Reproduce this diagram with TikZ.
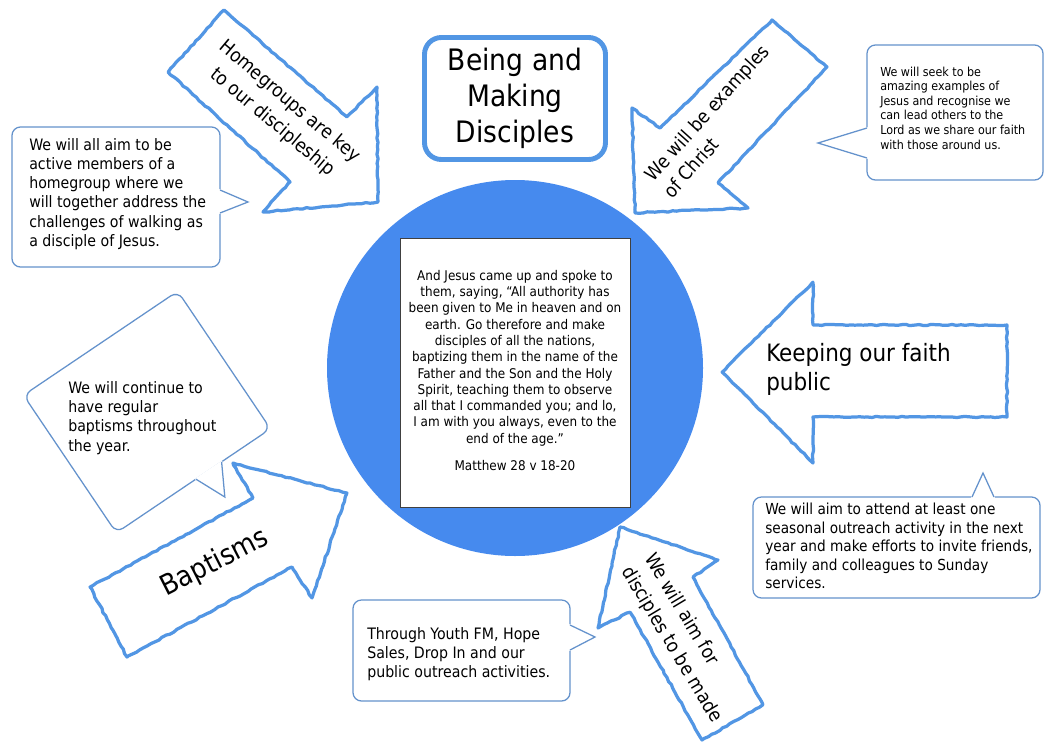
\documentclass[tikz,border=0pt]{standalone}
\usepackage{fontspec}
\setmainfont{DejaVu Sans Condensed}
\usepackage{tikz}
\usetikzlibrary{decorations.pathmorphing}
\definecolor{discblue}{RGB}{70,138,238}
\definecolor{sketchblue}{RGB}{82,150,228}
\definecolor{notecolor}{RGB}{100,146,204}
\newcommand{\pxu}{0.025cm}
\tikzset{
  sketchln/.style={draw=sketchblue, fill=white, line width=2.3pt, line join=round,
    decorate, decoration={random steps, segment length=3pt, amplitude=0.45pt}},
  noteln/.style={draw=notecolor, fill=white, line width=0.9pt, rounded corners=6pt},
  notetxt/.style={align=left, inner sep=0pt, font=\fontsize{11.2}{13.6}\selectfont},
  arrtxt/.style={align=center, inner sep=0pt},
}
\newcommand{\calltip}[3]{%
  \filldraw[white, line width=1.3pt, line join=round] #1 -- #2 -- #3 -- cycle;
  \draw[notecolor, line width=0.9pt] #1 -- #2 -- #3;
}

\begin{document}
\begin{tikzpicture}[x=\pxu, y=-\pxu]
    \pgfmathsetseed{11}
    \useasboundingbox (0,0) rectangle (1045,750);
    \fill[white] (0,0) rectangle (1045,750);
    % centre: circle and verse
    \node[circle, fill=discblue, minimum size=376*\pxu, inner sep=0pt] (core) at (515,368) {};
    \node[draw=black!75, fill=white, line width=0.6pt, minimum width=230*\pxu,
      minimum height=269*\pxu, inner sep=0pt] (versebox) at (515,372.5) {};
    \node[align=center, inner sep=0pt, font=\fontsize{9.5}{11.6}\selectfont] (verse) at (515,358)
      {And Jesus came up and spoke to\\them, saying, “All authority has\\been given to Me in heaven and on\\earth. Go therefore and make\\disciples of all the nations,\\baptizing them in the name of the\\Father and the Son and the Holy\\Spirit, teaching them to observe\\all that I commanded you; and lo,\\I am with you always, even to the\\end of the age.”};
    \node[inner sep=0pt, font=\fontsize{9.5}{11.6}\selectfont] (matt) at (515,466) {Matthew 28 v 18-20};
    % title
    \node[draw=sketchblue, line width=3.5pt, rounded corners=12pt, fill=white,
      minimum width=181*\pxu, minimum height=122*\pxu, align=center,
      font=\fontsize{21}{25.5}\selectfont] (title) at (515,98.5) {Being and\\Making\\Disciples};
    % notes
    \draw[noteln] (12,127) rectangle (220,267);
    \calltip{(220,190)}{(248,202)}{(220,213)}
    \node[notetxt, anchor=west] (homenote) at (29,194)
      {We will all aim to be\\active members of a\\homegroup where we\\will together address the\\challenges of walking as\\a disciple of Jesus.};
    \draw[noteln] (867,45) rectangle (1043,180);
    \calltip{(867,128)}{(818,143)}{(867,158)}
    \node[notetxt, anchor=west, font=\fontsize{8.8}{10.4}\selectfont] (christnote) at (880,108)
      {We will seek to be\\amazing examples of\\Jesus and recognise we\\can lead others to the\\Lord as we share our faith\\with those around us.};
    \begin{scope}[shift={(147,412)}, rotate=34]
      \draw[noteln] (-93,-83) rectangle (93,83);
      \calltip{(3,83)}{(17,114)}{(34,83)}
    \end{scope}
    \node[notetxt, anchor=west] (baptnote) at (68,418)
      {We will continue to\\have regular\\baptisms throughout\\the year.};
    \draw[noteln] (753,497) rectangle (1040,598);
    \calltip{(972,497)}{(983,473)}{(994,497)}
    \node[notetxt, anchor=west, font=\fontsize{10.8}{13.1}\selectfont] (outnote) at (765,546)
      {We will aim to attend at least one\\seasonal outreach activity in the next\\year and make efforts to invite friends,\\family and colleagues to Sunday\\services.};
    \draw[noteln] (353,600) rectangle (570,701);
    \calltip{(570,625)}{(595,637)}{(570,650)}
    \node[notetxt, anchor=west] (youthnote) at (367,654)
      {Through Youth FM, Hope\\Sales, Drop In and our\\public outreach activities.};
    % arrows
    \draw[sketchln] (224,10) -- (347,117) -- (377,87) -- (378,202) -- (263,212) -- (290,182) -- (168,72) -- cycle;
    \node[arrtxt, rotate=-40, font=\fontsize{13.5}{19}\selectfont] (homegrp) at (281,112)
      {Homegroups are key\\to our discipleship};
    \draw[sketchln] (772,20) -- (827,67) -- (718,183) -- (748,208) -- (635,213) -- (632,108) -- (660,128) -- cycle;
    \node[arrtxt, align=left, rotate=48, font=\fontsize{13.5}{18}\selectfont] (christ) at (716,121)
      {We will be examples\\of Christ};
    \draw[sketchln] (1007,325) -- (1007,417) -- (813,417) -- (813,463) -- (722,372) -- (813,282) -- (813,325) -- cycle;
    \node[arrtxt, align=left, anchor=west, font=\fontsize{17}{20.5}\selectfont] (public) at (766,369)
      {Keeping our faith\\public};
    \draw[sketchln] (620,527) -- (718,560) -- (693,577) -- (763,705) -- (702,740) -- (630,612) -- (598,628) -- cycle;
    \node[arrtxt, align=left, rotate=-59, font=\fontsize{13.5}{19}\selectfont] (made) at (683,638)
      {We will aim for\\disciples to be made};
    \draw[sketchln] (127,657) -- (90,587) -- (253,498) -- (233,463) -- (347,493) -- (312,598) -- (292,567) -- cycle;
    \node[arrtxt, rotate=27, font=\fontsize{20}{24}\selectfont] (bapt) at (215,563) {Baptisms};
\end{tikzpicture}
\end{document}
